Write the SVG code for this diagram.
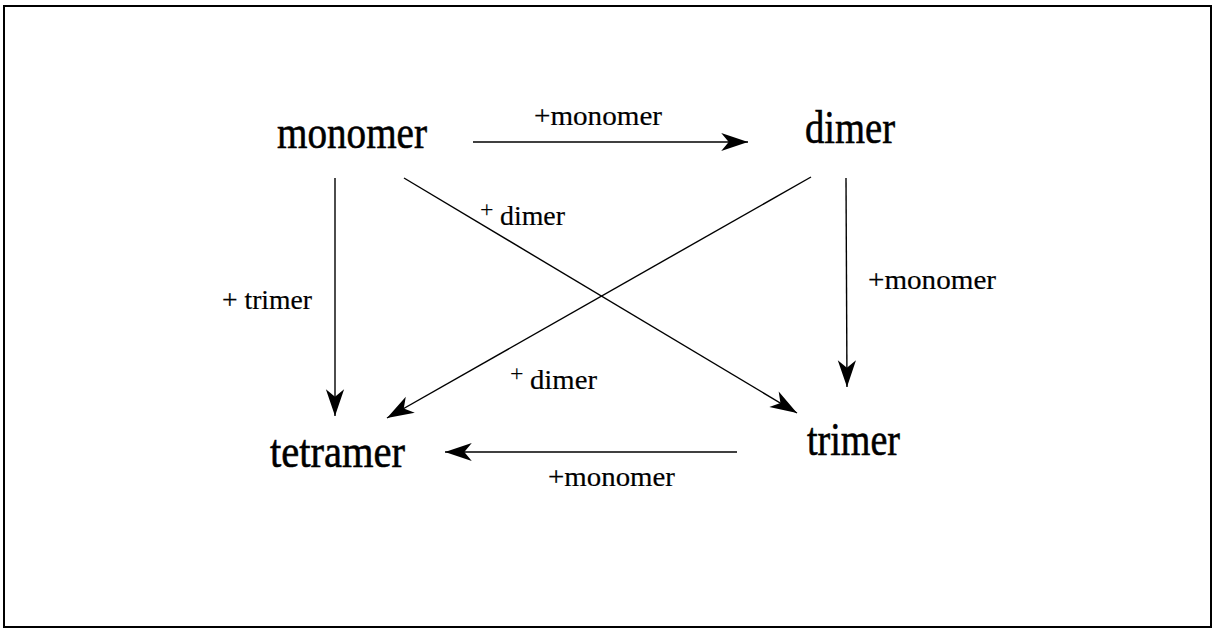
<svg xmlns="http://www.w3.org/2000/svg" width="1217" height="630" viewBox="0 0 1217 630">
<style>
.node{font-family:"Liberation Serif","Times New Roman",serif;font-size:47px;fill:#000;stroke:#000;stroke-width:0.6}
.lbl{font-family:"Liberation Serif","Times New Roman",serif;font-size:28px;fill:#000;stroke:#000;stroke-width:0.2}
.sup{font-family:"Liberation Serif","Times New Roman",serif;font-size:24px;fill:#000}
.edge{stroke:#000;stroke-width:1.4;fill:none;marker-end:url(#ah)}
</style>
<defs>
<marker id="ah" markerUnits="userSpaceOnUse" markerWidth="30" markerHeight="22" viewBox="-26 -10 28 20" refX="0" refY="0" orient="auto">
<path d="M0,0 L-25,-8.5 L-18,0 L-25,8.5 Z" fill="#000"/>
</marker>
</defs>
<rect x="4" y="6" width="1207" height="621" fill="#fff" stroke="#000" stroke-width="2"/>
<g id="connectors">
<line class="edge" x1="473" y1="142" x2="748" y2="142"/>
<line class="edge" x1="335" y1="178" x2="335" y2="416"/>
<line class="edge" x1="404" y1="178" x2="797" y2="413"/>
<line class="edge" x1="811" y1="177" x2="387" y2="418"/>
<line class="edge" x1="846" y1="178" x2="847" y2="387"/>
<line class="edge" x1="737" y1="452" x2="445" y2="452"/>
</g>
<g id="labels">
<text class="lbl" x="534" y="125" textLength="128" lengthAdjust="spacingAndGlyphs">+monomer</text>
<text class="lbl" x="868" y="289" textLength="128" lengthAdjust="spacingAndGlyphs">+monomer</text>
<text class="lbl" x="548" y="486" textLength="127" lengthAdjust="spacingAndGlyphs">+monomer</text>
<text class="lbl" x="222" y="309" textLength="90" lengthAdjust="spacingAndGlyphs">+ trimer</text>
<text class="sup" x="480" y="217">+</text>
<text class="lbl" x="500" y="225" textLength="65" lengthAdjust="spacingAndGlyphs">dimer</text>
<text class="sup" x="510" y="381">+</text>
<text class="lbl" x="530" y="389" textLength="67" lengthAdjust="spacingAndGlyphs">dimer</text>
</g>
<g id="monomer"><text class="node" x="277" y="148" textLength="150" lengthAdjust="spacingAndGlyphs">monomer</text></g>
<g id="dimer"><text class="node" x="805" y="143" textLength="90" lengthAdjust="spacingAndGlyphs">dimer</text></g>
<g id="tetramer"><text class="node" x="270" y="467" textLength="135" lengthAdjust="spacingAndGlyphs">tetramer</text></g>
<g id="trimer"><text class="node" x="807" y="455" textLength="93" lengthAdjust="spacingAndGlyphs">trimer</text></g>
</svg>
